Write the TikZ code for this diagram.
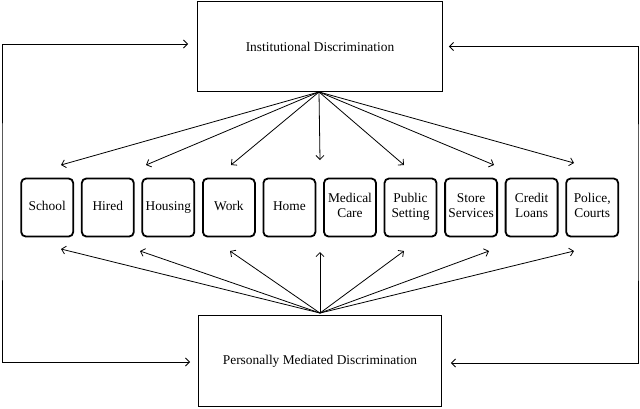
\documentclass[tikz,border=0pt]{standalone}
\usepackage{fontspec}
\setmainfont{Liberation Serif}
\usetikzlibrary{arrows.meta}
\tikzset{
  bigbox/.style = {draw, rectangle, line width=0.9pt, align=center, font=\fontsize{13.4}{15}\selectfont},
  smallbox/.style = {draw, rectangle, rounded corners=4.5pt, line width=1.8pt, minimum width=52pt, minimum height=58pt, inner sep=0pt, align=center, font=\fontsize{13.4}{15}\selectfont,
    execute at begin node=\strut, execute at end node=\strut},
  link/.style = {line width=0.8pt, -{Straight Barb[length=4pt,width=8pt]}},
  loop/.style = {line width=0.8pt, {Straight Barb[length=4pt,width=8pt]}-{Straight Barb[length=4pt,width=8pt]}}
}

\begin{document}
\begin{tikzpicture}[x=1pt,y=-1pt]
			\useasboundingbox (0,0) rectangle (640,408);
			% the two sources
			\node[bigbox, minimum width=245pt, minimum height=90pt] (inst) at (320,46.5) {Institutional Discrimination};
			\node[bigbox, minimum width=243pt, minimum height=91pt] (pers) at (320,361) {Personally Mediated Discrimination};
			% settings
			\node[smallbox] (school) at (47.2,207.5) {School};
			\node[smallbox] (hired) at (107.8,207.5) {Hired};
			\node[smallbox] (housing) at (168.3,207.5) {Housing};
			\node[smallbox] (work) at (228.9,207.5) {Work};
			\node[smallbox] (home) at (289.4,207.5) {Home};
			\node[smallbox] (medical) at (350,207.5) {Medical\\Care};
			\node[smallbox] (public) at (410.5,207.5) {Public\\Setting};
			\node[smallbox] (store) at (471.1,207.5) {Store\\Services};
			\node[smallbox] (credit) at (531.6,207.5) {Credit\\Loans};
			\node[smallbox] (police) at (592.2,207.5) {Police,\\Courts};
			% arrow ends
			\coordinate (t1) at (61,165);
			\coordinate (t2) at (146,165);
			\coordinate (t3) at (231,165);
			\coordinate (t4) at (320,160);
			\coordinate (t5) at (404,165);
			\coordinate (t6) at (494,165);
			\coordinate (t7) at (574,163);
			\coordinate (b1) at (61,249);
			\coordinate (b2) at (140,251);
			\coordinate (b3) at (230,251);
			\coordinate (b4) at (320,252);
			\coordinate (b5) at (404,251);
			\coordinate (b6) at (489,251);
			\coordinate (b7) at (574,251);
			\foreach \t in {t1,t2,t3,t4,t5,t6,t7}
				\draw[link] ([xshift=-1pt]inst.south) -- (\t);
			\foreach \b in {b1,b2,b3,b4,b5,b6,b7}
				\draw[link] ([yshift=2pt]pers.north) -- (\b);
			% feedback
			\coordinate (lx) at (2,200);
			\coordinate (rx) at (638,200);
			\draw[loop] ([xshift=-9pt,yshift=2.5pt]inst.west) -| (lx) |- ([xshift=-8pt,yshift=-1pt]pers.west);
			\draw[loop] ([xshift=6pt]inst.east) -| (rx) |- ([xshift=9pt,yshift=-2pt]pers.east);
		\end{tikzpicture}
\end{document}
